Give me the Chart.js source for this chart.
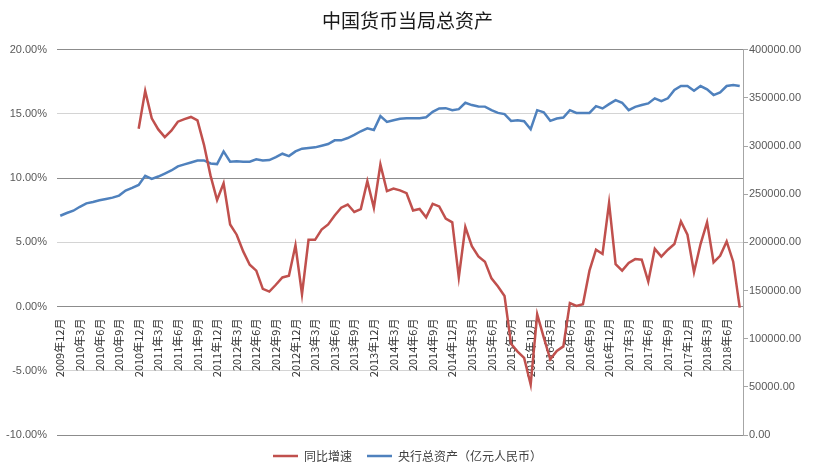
<!DOCTYPE html>
<html>
<head>
<meta charset="utf-8">
<script src="https://cdn.jsdelivr.net/npm/chart.js@4.4.0/dist/chart.umd.min.js"></script>
<style>
  html, body { margin: 0; padding: 0; background: #fff; }
  #wrap { width: 815px; height: 473px; }
</style>
</head>
<body>
<div id="wrap"><canvas id="assetChart" width="815" height="473"></canvas></div>
<script>
// monthly, 2009年12月 .. 2018年8月
var startYear = 2009;
var startMonth = 12;
var monthCount = 105;

// 同比增速 (%), no value before 2010年12月
var growthRate = [
    null, null, null, null, null, null, null, null, null, null, null, null,
    13.85,
    16.8, 14.66, 13.8, 13.2, 13.7, 14.4, 14.6, 14.77, 14.5, 12.6, 10.2, 8.3,
    9.6, 6.4, 5.6, 4.3, 3.26, 2.8, 1.38, 1.17, 1.7, 2.27, 2.4, 4.77,
    0.96, 5.2, 5.2, 6.0, 6.4, 7.1, 7.7, 7.95, 7.37, 7.6, 9.77, 7.7,
    11.07, 9.0, 9.2, 9.05, 8.83, 7.48, 7.6, 6.95, 8.0, 7.8, 6.85, 6.56,
    2.27, 6.2, 4.7, 3.9, 3.5, 2.2, 1.56, 0.82, -2.9, -3.5, -4.0, -6.07,
    -0.6, -2.4, -4.1, -3.45, -3.1, 0.28, 0.05, 0.18, 2.8, 4.43, 4.1, 8.07,
    3.3, 2.8, 3.4, 3.7, 3.65, 1.95, 4.5, 3.9, 4.43, 4.87, 6.64, 5.6,
    2.68, 4.87, 6.56, 3.44, 3.96, 5.08, 3.5, -0.08
];

// 央行总资产（亿元人民币）
var totalAssets = [
    227700,
    230500, 232900, 237000, 240500, 242000, 243700, 245100, 246500, 248600, 253800, 256600, 259700,
    269100, 266000, 268400, 271500, 274700, 278900, 281000, 283000, 285100, 285100, 282000, 281300,
    294500, 283800, 284200, 283800, 283800, 286200, 285000, 285500, 288600, 292100, 289600, 294500,
    297300, 298000, 298700, 300400, 302200, 306000, 306000, 308400, 311600, 315400, 318500, 316800,
    331100, 325100, 326900, 328300, 329000, 329000, 329000, 330000, 335600, 339100, 339400, 337300,
    338400, 345000, 342600, 341200, 341000, 337300, 334500, 333200, 326200, 326900, 325900, 317500,
    337300, 335200, 326200, 328700, 329700, 337300, 334500, 334500, 334500, 341500, 339100, 343600,
    347800, 345000, 337300, 340800, 342600, 344300, 349600, 346700, 349600, 358200, 362400, 362400,
    357500, 362400, 359000, 353000, 355800, 362400, 363500, 362400
];

var leftTicks = { min: -10, max: 20, step: 5 };
var rightTicks = { min: 0, max: 400000, step: 50000 };

var labels = [];
for (var i = 0; i < monthCount; i++) {
    var m = (startMonth - 1 + i) % 12 + 1;
    var y = startYear + Math.floor((startMonth - 1 + i) / 12);
    labels.push(y + '年' + m + '月');
}

var ctx = document.getElementById('assetChart').getContext('2d');

new Chart(ctx, {
    type: 'line',
    data: {
        labels: labels,
        datasets: [
            {
                label: '同比增速',
                data: growthRate,
                borderColor: '#C0504D',
                backgroundColor: '#C0504D',
                borderWidth: 2.5,
                pointRadius: 0,
                tension: 0,
                yAxisID: 'y'
            },
            {
                label: '央行总资产（亿元人民币）',
                data: totalAssets,
                borderColor: '#4F81BD',
                backgroundColor: '#4F81BD',
                borderWidth: 2.5,
                pointRadius: 0,
                tension: 0,
                yAxisID: 'y1'
            }
        ]
    },
    options: {
        responsive: false,
        animation: false,
        layout: {
            padding: { left: 0, right: 0, top: 0, bottom: 1 }
        },
        plugins: {
            title: {
                display: true,
                text: '中国货币当局总资产',
                color: '#1a1a1a',
                font: { family: '"Noto Sans CJK SC", sans-serif', size: 19, weight: 'normal' },
                padding: { top: 9, bottom: 18 }
            },
            legend: {
                position: 'bottom',
                labels: {
                    usePointStyle: true,
                    pointStyle: 'line',
                    pointStyleWidth: 25,
                    padding: 15,
                    color: '#404040',
                    font: { family: '"Noto Sans CJK SC", sans-serif', size: 12 }
                }
            },
            tooltip: { enabled: false }
        },
        scales: {
            x: {
                position: { y: 0 },
                offset: true,
                grid: { display: false },
                border: { display: false },
                ticks: {
                    autoSkip: false,
                    minRotation: 90,
                    maxRotation: 90,
                    padding: 4,
                    color: '#333',
                    font: { family: '"Noto Sans CJK SC", sans-serif', size: 11 },
                    callback: function(value, index) {
                        return index % 3 === 0 ? this.getLabelForValue(value) : '';
                    }
                }
            },
            y: {
                position: 'left',
                min: leftTicks.min,
                max: leftTicks.max,
                afterFit: function(scale) { scale.width = 57; },
                grid: {
                    color: function(c) { return c.index % 2 === 0 ? '#8c8c8c' : '#d4d4d4'; },
                    drawTicks: false
                },
                border: { display: false },
                ticks: {
                    stepSize: leftTicks.step,
                    padding: 10,
                    color: '#595959',
                    font: { family: '"Liberation Sans", sans-serif', size: 11 },
                    callback: function(v) { return v.toFixed(2) + '%'; }
                }
            },
            y1: {
                position: 'right',
                min: rightTicks.min,
                max: rightTicks.max,
                afterFit: function(scale) { scale.width = 72; },
                grid: {
                    drawOnChartArea: false,
                    color: '#a6a6a6',
                    tickLength: 5
                },
                border: { display: true, color: '#a6a6a6' },
                ticks: {
                    stepSize: rightTicks.step,
                    padding: 1,
                    color: '#595959',
                    font: { family: '"Liberation Sans", sans-serif', size: 11 },
                    callback: function(v) { return v.toFixed(2); }
                }
            }
        }
    }
});
</script>
</body>
</html>
